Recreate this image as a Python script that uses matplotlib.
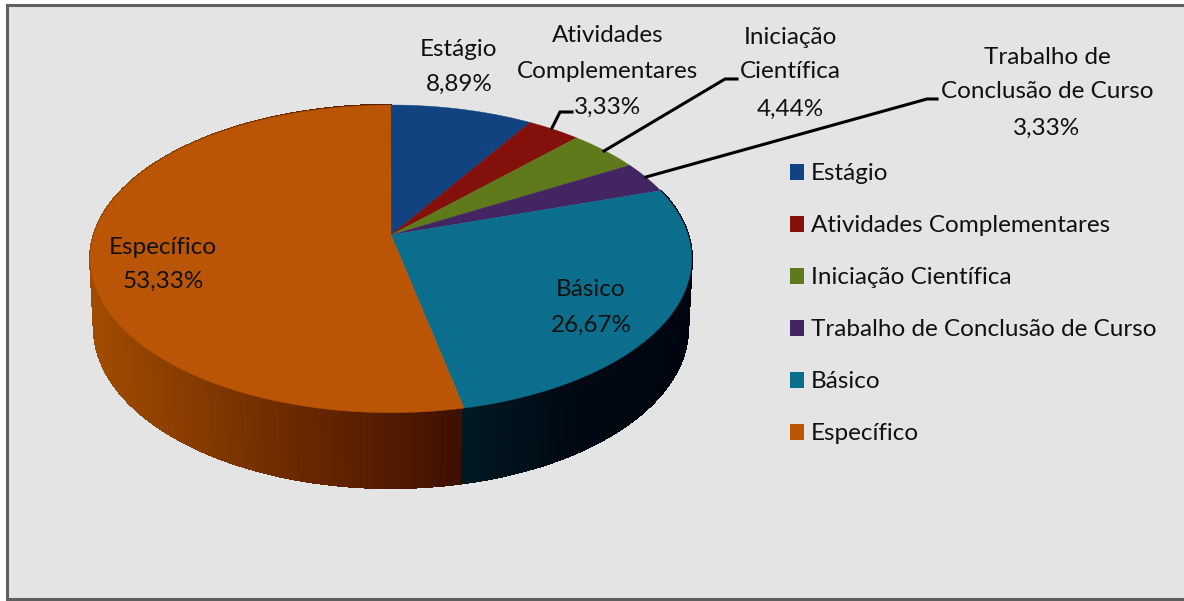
import numpy as np
import matplotlib
matplotlib.use('Agg')
import matplotlib.pyplot as plt
from matplotlib.patches import Rectangle

categories = ['Estágio', 'Atividades Complementares', 'Iniciação Científica',
              'Trabalho de Conclusão de Curso', 'Básico', 'Específico']
values = [8.89, 3.33, 4.44, 3.33, 26.67, 53.33]
colors = ['#10437f', '#84100c', '#5e7a1a', '#432562', '#0b6e8c', '#b95505']

plt.rcParams['font.family'] = ['Lato', 'DejaVu Sans']

CX = 391


# pie disc in perspective, angle is clockwise from the top
def top_xy(ang):
    u, v = np.sin(ang), np.cos(ang)
    w = 1 + 0.155 * v
    return CX + 297 * u / w, (-113.7 * v + 235) / w


def bottom_xy(ang):
    u, v = np.sin(ang), np.cos(ang)
    w = 1 + 0.14 * v
    return CX + 294 * u / w, (-114.5 * v + 305) / w


def shade(x, stops):
    xs, cs = zip(*stops)
    rgb = np.array([matplotlib.colors.to_rgb(c) for c in cs])
    return [np.interp(x, xs, rgb[:, i]) for i in range(3)]


fig = plt.figure(figsize=(11.84, 6.01), dpi=100)
ax = fig.add_axes([0, 0, 1, 1])
ax.set_xlim(0, 1184)
ax.set_ylim(601, 0)
ax.axis('off')

ax.add_patch(Rectangle((6.5, 4.5), 1200, 594.5, facecolor='#e4e4e4',
                       edgecolor='#5f5f5f', linewidth=2.2))

edges = np.radians(np.cumsum([0] + values) * 3.6)

# side wall, only the two front slices show
wall_stops = {
    4: [(460, '#001a24'), (560, '#000a14'), (700, '#00050f')],
    5: [(90, '#a04c00'), (300, '#6a2800'), (464, '#3d0f00')],
}
for i in (5, 4):
    angs = np.linspace(edges[i], edges[i + 1], 130)
    for a0, a1 in zip(angs[:-1], angs[1:]):
        x0, y0 = top_xy(a0)
        x1, y1 = top_xy(a1)
        x2, y2 = bottom_xy(a1)
        x3, y3 = bottom_xy(a0)
        c = shade((x0 + x1) / 2, wall_stops[i])
        # no antialiasing here, it leaves streaks between the strips
        ax.fill([x0, x1, x2, x3], [y0, y1, y2, y3], color=c, lw=1.2, antialiased=False)

# top of the pie
for i, col in enumerate(colors):
    angs = np.linspace(edges[i], edges[i + 1], 120)
    xs, ys = top_xy(angs)
    ax.fill(np.r_[CX, xs], np.r_[235, ys], color=col, lw=0.3)

# leader lines
leaders = [
    ([552, 560, 572], [128, 112, 112]),
    ([604, 725, 737], [151, 79, 79]),
    ([646, 927, 937], [177, 99, 99]),
]
for lx, ly in leaders:
    ax.plot(lx, ly, color='black', lw=2.2, solid_joinstyle='miter')

# data labels
FS = 17.5
labels = [
    (459, [49, 84], ['Estágio', '8,89%']),
    (608, [36, 71, 107], ['Atividades', 'Complementares', '3,33%']),
    (790, [37, 72, 109], ['Iniciação', 'Científica', '4,44%']),
    (1047, [57, 92, 128], ['Trabalho de', 'Conclusão de Curso', '3,33%']),
    (591, [290, 325], ['Básico', '26,67%']),
    (163, [247, 281], ['Específico', '53,33%']),
]
for x, ys, lines in labels:
    for y, line in zip(ys, lines):
        ax.text(x, y, line, ha='center', va='center', fontsize=FS, color='#111111')

# legend
for i, (name, col) in enumerate(zip(categories, colors)):
    y = 173 + 52 * i
    ax.add_patch(Rectangle((790, y - 9), 14, 16, facecolor=col, edgecolor='none'))
    ax.text(811, y, name, ha='left', va='center', fontsize=FS, color='#111111')

fig.savefig('out.png', dpi=100)
